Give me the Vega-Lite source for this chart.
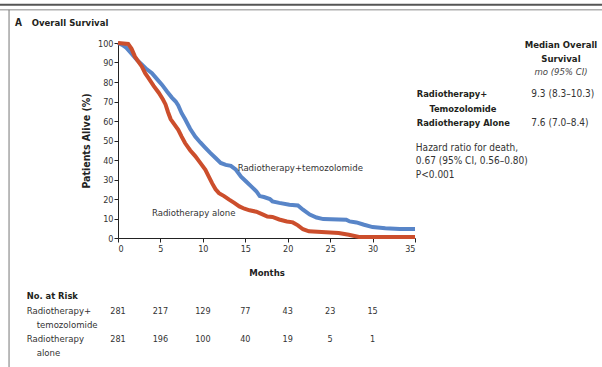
{
  "$schema": "https://vega.github.io/schema/vega-lite/v6.json",
  "autosize": {"type": "none"},
  "padding": {"left": 118, "top": 43, "right": 187, "bottom": 129},
  "width": 297,
  "height": 195,
  "background": "white",
  "resolve": {"axis": {"x": "independent", "y": "independent"}},
  "config": {
    "font": "Liberation Sans Narrow, DejaVu Sans Condensed, sans-serif",
    "view": {"stroke": null},
    "axis": {
      "grid": false,
      "domainColor": "#222",
      "domainWidth": 1,
      "tickColor": "#222",
      "tickSize": 4,
      "labelFontSize": 9,
      "labelColor": "#333",
      "labelOverlap": false,
      "titleFontSize": 10.5,
      "titleFontWeight": "bold",
      "titleColor": "#222"
    },
    "text": {"color": "#231f20"}
  },
  "datasets": {
    "surv": [
      {"group": "Radiotherapy+temozolomide", "month": 0, "pct": 100},
      {"group": "Radiotherapy+temozolomide", "month": 0.5, "pct": 99},
      {"group": "Radiotherapy+temozolomide", "month": 1.0, "pct": 97.5},
      {"group": "Radiotherapy+temozolomide", "month": 1.6, "pct": 94.5},
      {"group": "Radiotherapy+temozolomide", "month": 2.2, "pct": 91.5},
      {"group": "Radiotherapy+temozolomide", "month": 2.8, "pct": 89},
      {"group": "Radiotherapy+temozolomide", "month": 3.4, "pct": 86.5},
      {"group": "Radiotherapy+temozolomide", "month": 4.0, "pct": 84.5},
      {"group": "Radiotherapy+temozolomide", "month": 4.6, "pct": 81.5},
      {"group": "Radiotherapy+temozolomide", "month": 5.2, "pct": 78.5},
      {"group": "Radiotherapy+temozolomide", "month": 5.8, "pct": 75},
      {"group": "Radiotherapy+temozolomide", "month": 6.35, "pct": 72},
      {"group": "Radiotherapy+temozolomide", "month": 6.8, "pct": 70},
      {"group": "Radiotherapy+temozolomide", "month": 7.1, "pct": 68},
      {"group": "Radiotherapy+temozolomide", "month": 7.5, "pct": 64},
      {"group": "Radiotherapy+temozolomide", "month": 7.9, "pct": 61},
      {"group": "Radiotherapy+temozolomide", "month": 8.5, "pct": 56},
      {"group": "Radiotherapy+temozolomide", "month": 9.1, "pct": 52},
      {"group": "Radiotherapy+temozolomide", "month": 9.7, "pct": 49},
      {"group": "Radiotherapy+temozolomide", "month": 10.3, "pct": 46.2},
      {"group": "Radiotherapy+temozolomide", "month": 10.9, "pct": 43.5},
      {"group": "Radiotherapy+temozolomide", "month": 11.5, "pct": 41},
      {"group": "Radiotherapy+temozolomide", "month": 12.1, "pct": 38.5},
      {"group": "Radiotherapy+temozolomide", "month": 12.7, "pct": 37.5},
      {"group": "Radiotherapy+temozolomide", "month": 13.3, "pct": 37},
      {"group": "Radiotherapy+temozolomide", "month": 13.9, "pct": 35},
      {"group": "Radiotherapy+temozolomide", "month": 14.5, "pct": 31.5},
      {"group": "Radiotherapy+temozolomide", "month": 15.1, "pct": 29},
      {"group": "Radiotherapy+temozolomide", "month": 15.7, "pct": 26.5},
      {"group": "Radiotherapy+temozolomide", "month": 16.3, "pct": 24},
      {"group": "Radiotherapy+temozolomide", "month": 16.7, "pct": 21.5},
      {"group": "Radiotherapy+temozolomide", "month": 17.2, "pct": 21},
      {"group": "Radiotherapy+temozolomide", "month": 17.9, "pct": 20},
      {"group": "Radiotherapy+temozolomide", "month": 18.2, "pct": 18.8},
      {"group": "Radiotherapy+temozolomide", "month": 19.0, "pct": 18},
      {"group": "Radiotherapy+temozolomide", "month": 20.2, "pct": 17.1},
      {"group": "Radiotherapy+temozolomide", "month": 21.2, "pct": 16.7},
      {"group": "Radiotherapy+temozolomide", "month": 21.8, "pct": 14.5},
      {"group": "Radiotherapy+temozolomide", "month": 22.6, "pct": 12},
      {"group": "Radiotherapy+temozolomide", "month": 23.4, "pct": 10.5},
      {"group": "Radiotherapy+temozolomide", "month": 24.2, "pct": 9.7},
      {"group": "Radiotherapy+temozolomide", "month": 26.9, "pct": 9.4},
      {"group": "Radiotherapy+temozolomide", "month": 27.3, "pct": 8.5},
      {"group": "Radiotherapy+temozolomide", "month": 28.1, "pct": 8},
      {"group": "Radiotherapy+temozolomide", "month": 29.0, "pct": 6.8},
      {"group": "Radiotherapy+temozolomide", "month": 30.0, "pct": 5.6},
      {"group": "Radiotherapy+temozolomide", "month": 31.5, "pct": 5},
      {"group": "Radiotherapy+temozolomide", "month": 33.2, "pct": 4.6},
      {"group": "Radiotherapy+temozolomide", "month": 35, "pct": 4.6},
      {"group": "Radiotherapy alone", "month": 0, "pct": 100},
      {"group": "Radiotherapy alone", "month": 1.2, "pct": 99.5},
      {"group": "Radiotherapy alone", "month": 1.6, "pct": 97},
      {"group": "Radiotherapy alone", "month": 2.0, "pct": 93},
      {"group": "Radiotherapy alone", "month": 2.4, "pct": 90.5},
      {"group": "Radiotherapy alone", "month": 2.8, "pct": 88},
      {"group": "Radiotherapy alone", "month": 3.2, "pct": 84.5},
      {"group": "Radiotherapy alone", "month": 3.6, "pct": 82},
      {"group": "Radiotherapy alone", "month": 4.2, "pct": 78},
      {"group": "Radiotherapy alone", "month": 4.8, "pct": 74.5},
      {"group": "Radiotherapy alone", "month": 5.3, "pct": 71},
      {"group": "Radiotherapy alone", "month": 5.6, "pct": 68.5},
      {"group": "Radiotherapy alone", "month": 5.9, "pct": 64.5},
      {"group": "Radiotherapy alone", "month": 6.2, "pct": 61},
      {"group": "Radiotherapy alone", "month": 6.6, "pct": 58.5},
      {"group": "Radiotherapy alone", "month": 7.1, "pct": 55.5},
      {"group": "Radiotherapy alone", "month": 7.5, "pct": 52},
      {"group": "Radiotherapy alone", "month": 7.9, "pct": 48.7},
      {"group": "Radiotherapy alone", "month": 8.5, "pct": 45},
      {"group": "Radiotherapy alone", "month": 9.1, "pct": 42},
      {"group": "Radiotherapy alone", "month": 9.7, "pct": 38.5},
      {"group": "Radiotherapy alone", "month": 10.3, "pct": 35},
      {"group": "Radiotherapy alone", "month": 10.7, "pct": 31.5},
      {"group": "Radiotherapy alone", "month": 11.1, "pct": 28},
      {"group": "Radiotherapy alone", "month": 11.5, "pct": 25},
      {"group": "Radiotherapy alone", "month": 11.9, "pct": 23},
      {"group": "Radiotherapy alone", "month": 12.5, "pct": 21.5},
      {"group": "Radiotherapy alone", "month": 13.1, "pct": 19.7},
      {"group": "Radiotherapy alone", "month": 13.7, "pct": 18},
      {"group": "Radiotherapy alone", "month": 14.3, "pct": 16.2},
      {"group": "Radiotherapy alone", "month": 14.9, "pct": 15},
      {"group": "Radiotherapy alone", "month": 15.5, "pct": 14.2},
      {"group": "Radiotherapy alone", "month": 16.3, "pct": 13.5},
      {"group": "Radiotherapy alone", "month": 17.1, "pct": 12},
      {"group": "Radiotherapy alone", "month": 17.6, "pct": 11},
      {"group": "Radiotherapy alone", "month": 18.2, "pct": 10.8},
      {"group": "Radiotherapy alone", "month": 19.0, "pct": 9.5},
      {"group": "Radiotherapy alone", "month": 19.9, "pct": 8.5},
      {"group": "Radiotherapy alone", "month": 20.6, "pct": 8.0},
      {"group": "Radiotherapy alone", "month": 21.2, "pct": 6.5},
      {"group": "Radiotherapy alone", "month": 21.8, "pct": 4.5},
      {"group": "Radiotherapy alone", "month": 22.5, "pct": 3.4},
      {"group": "Radiotherapy alone", "month": 24.5, "pct": 3.0},
      {"group": "Radiotherapy alone", "month": 26.0, "pct": 2.6},
      {"group": "Radiotherapy alone", "month": 27.2, "pct": 1.7},
      {"group": "Radiotherapy alone", "month": 28.4, "pct": 0.5},
      {"group": "Radiotherapy alone", "month": 35, "pct": 0.5}
    ],
    "risk": [
      {"group": "Radiotherapy+temozolomide", "month": 0, "n": 281},
      {"group": "Radiotherapy+temozolomide", "month": 5, "n": 217},
      {"group": "Radiotherapy+temozolomide", "month": 10, "n": 129},
      {"group": "Radiotherapy+temozolomide", "month": 15, "n": 77},
      {"group": "Radiotherapy+temozolomide", "month": 20, "n": 43},
      {"group": "Radiotherapy+temozolomide", "month": 25, "n": 23},
      {"group": "Radiotherapy+temozolomide", "month": 30, "n": 15},
      {"group": "Radiotherapy alone", "month": 0, "n": 281},
      {"group": "Radiotherapy alone", "month": 5, "n": 196},
      {"group": "Radiotherapy alone", "month": 10, "n": 100},
      {"group": "Radiotherapy alone", "month": 15, "n": 40},
      {"group": "Radiotherapy alone", "month": 20, "n": 19},
      {"group": "Radiotherapy alone", "month": 25, "n": 5},
      {"group": "Radiotherapy alone", "month": 30, "n": 1}
    ]
  },
  "layer": [
    {
      "data": {"name": "surv"},
      "transform": [{"filter": "datum.group === 'Radiotherapy+temozolomide'"}],
      "mark": {"type": "line", "strokeWidth": 4, "color": "#5885c8", "clip": false},
      "encoding": {
        "x": {"field": "month", "type": "quantitative",
              "scale": {"domain": [0, 35], "nice": false, "zero": true},
              "axis": {"values": [0, 5, 10, 15, 20, 25, 30, 35], "title": "Months", "labelPadding": 2, "titlePadding": 14, "titleFontSize": 9.5}},
        "y": {"field": "pct", "type": "quantitative",
              "scale": {"domain": [0, 100], "nice": false},
              "axis": {"values": [0, 10, 20, 30, 40, 50, 60, 70, 80, 90, 100], "labelOverlap": false, "title": "Patients Alive (%)", "labelPadding": 1, "titlePadding": 6}}
      }
    },
    {
      "data": {"name": "surv"},
      "transform": [{"filter": "datum.group === 'Radiotherapy alone'"}],
      "mark": {"type": "line", "strokeWidth": 4, "color": "#cc4e2c", "clip": false},
      "encoding": {
        "x": {"field": "month", "type": "quantitative", "axis": null},
        "y": {"field": "pct", "type": "quantitative", "axis": null}
      }
    },
    {
      "data": {"name": "risk"},
      "transform": [{"filter": "datum.group === 'Radiotherapy+temozolomide'"}],
      "mark": {"type": "text", "fontSize": 9, "color": "#333", "baseline": "middle", "align": "center"},
      "encoding": {"x": {"field": "month", "type": "quantitative", "axis": null}, "y": {"datum": -37.3, "axis": null}, "text": {"field": "n"}}
    },
    {
      "data": {"name": "risk"},
      "transform": [{"filter": "datum.group === 'Radiotherapy alone'"}],
      "mark": {"type": "text", "fontSize": 9, "color": "#333", "baseline": "middle", "align": "center"},
      "encoding": {"x": {"field": "month", "type": "quantitative", "axis": null}, "y": {"datum": -51.8, "axis": null}, "text": {"field": "n"}}
    },
    {"data": {"values": [{}]}, "mark": {"type": "text", "align": "left", "baseline": "middle", "fontSize": 9.5, "color": "#333"},
     "encoding": {"x": {"datum": 14.1, "axis": null}, "y": {"datum": 35.9, "axis": null}, "text": {"value": "Radiotherapy+temozolomide"}}},
    {"data": {"values": [{}]}, "mark": {"type": "text", "align": "left", "baseline": "middle", "fontSize": 9.5, "color": "#333"},
     "encoding": {"x": {"datum": 4.0, "axis": null}, "y": {"datum": 12.7, "axis": null}, "text": {"value": "Radiotherapy alone"}}},
    {"data": {"values": [{}]}, "mark": {"type": "text", "align": "center", "baseline": "middle", "fontSize": 9.5, "fontWeight": "bold"},
     "encoding": {"x": {"datum": 52.2, "axis": null}, "y": {"datum": 99, "axis": null}, "text": {"value": "Median Overall"}}},
    {"data": {"values": [{}]}, "mark": {"type": "text", "align": "center", "baseline": "middle", "fontSize": 9.5, "fontWeight": "bold"},
     "encoding": {"x": {"datum": 52.2, "axis": null}, "y": {"datum": 91.6, "axis": null}, "text": {"value": "Survival"}}},
    {"data": {"values": [{}]}, "mark": {"type": "text", "align": "center", "baseline": "middle", "fontSize": 9.5, "fontStyle": "italic", "color": "#444"},
     "encoding": {"x": {"datum": 52.2, "axis": null}, "y": {"datum": 85.0, "axis": null}, "text": {"value": "mo (95% CI)"}}},
    {"data": {"values": [{}]}, "mark": {"type": "text", "align": "left", "baseline": "middle", "fontSize": 9.3, "fontWeight": "bold"},
     "encoding": {"x": {"datum": 35.2, "axis": null}, "y": {"datum": 73.7, "axis": null}, "text": {"value": "Radiotherapy+"}}},
    {"data": {"values": [{}]}, "mark": {"type": "text", "align": "left", "baseline": "middle", "fontSize": 9.3, "fontWeight": "bold"},
     "encoding": {"x": {"datum": 36.7, "axis": null}, "y": {"datum": 66.2, "axis": null}, "text": {"value": "Temozolomide"}}},
    {"data": {"values": [{}]}, "mark": {"type": "text", "align": "left", "baseline": "middle", "fontSize": 9.3, "fontWeight": "bold"},
     "encoding": {"x": {"datum": 35.2, "axis": null}, "y": {"datum": 58.8, "axis": null}, "text": {"value": "Radiotherapy Alone"}}},
    {"data": {"values": [{}]}, "mark": {"type": "text", "align": "left", "baseline": "middle", "fontSize": 10, "color": "#333"},
     "encoding": {"x": {"datum": 48.7, "axis": null}, "y": {"datum": 73.7, "axis": null}, "text": {"value": "9.3 (8.3–10.3)"}}},
    {"data": {"values": [{}]}, "mark": {"type": "text", "align": "left", "baseline": "middle", "fontSize": 10, "color": "#333"},
     "encoding": {"x": {"datum": 48.7, "axis": null}, "y": {"datum": 58.8, "axis": null}, "text": {"value": "7.6 (7.0–8.4)"}}},
    {"data": {"values": [{}]}, "mark": {"type": "text", "align": "left", "baseline": "middle", "fontSize": 10, "color": "#333"},
     "encoding": {"x": {"datum": 35.1, "axis": null}, "y": {"datum": 46.3, "axis": null}, "text": {"value": "Hazard ratio for death,"}}},
    {"data": {"values": [{}]}, "mark": {"type": "text", "align": "left", "baseline": "middle", "fontSize": 10, "color": "#333"},
     "encoding": {"x": {"datum": 35.1, "axis": null}, "y": {"datum": 39.6, "axis": null}, "text": {"value": "0.67 (95% CI, 0.56–0.80)"}}},
    {"data": {"values": [{}]}, "mark": {"type": "text", "align": "left", "baseline": "middle", "fontSize": 10, "color": "#333"},
     "encoding": {"x": {"datum": 35.1, "axis": null}, "y": {"datum": 32.3, "axis": null}, "text": {"value": "P<0.001"}}},
    {"data": {"values": [{}]}, "mark": {"type": "text", "align": "left", "baseline": "middle", "fontSize": 10, "fontWeight": "bold"},
     "encoding": {"x": {"datum": -12.15, "axis": null}, "y": {"datum": 110.1, "axis": null}, "text": {"value": "A"}}},
    {"data": {"values": [{}]}, "mark": {"type": "text", "align": "left", "baseline": "middle", "fontSize": 9.5, "fontWeight": "bold"},
     "encoding": {"x": {"datum": -10.17, "axis": null}, "y": {"datum": 110.1, "axis": null}, "text": {"value": "Overall Survival"}}},
    {"data": {"values": [{}]}, "mark": {"type": "text", "align": "left", "baseline": "middle", "fontSize": 9.3, "fontWeight": "bold"},
     "encoding": {"x": {"datum": -10.76, "axis": null}, "y": {"datum": -29.6, "axis": null}, "text": {"value": "No. at Risk"}}},
    {"data": {"values": [{}]}, "mark": {"type": "text", "align": "left", "baseline": "middle", "fontSize": 9.5, "color": "#333"},
     "encoding": {"x": {"datum": -10.76, "axis": null}, "y": {"datum": -37.3, "axis": null}, "text": {"value": "Radiotherapy+"}}},
    {"data": {"values": [{}]}, "mark": {"type": "text", "align": "left", "baseline": "middle", "fontSize": 9.5, "color": "#333"},
     "encoding": {"x": {"datum": -9.58, "axis": null}, "y": {"datum": -44.6, "axis": null}, "text": {"value": "temozolomide"}}},
    {"data": {"values": [{}]}, "mark": {"type": "text", "align": "left", "baseline": "middle", "fontSize": 9.5, "color": "#333"},
     "encoding": {"x": {"datum": -10.76, "axis": null}, "y": {"datum": -51.8, "axis": null}, "text": {"value": "Radiotherapy"}}},
    {"data": {"values": [{}]}, "mark": {"type": "text", "align": "left", "baseline": "middle", "fontSize": 9.5, "color": "#333"},
     "encoding": {"x": {"datum": -9.58, "axis": null}, "y": {"datum": -59.1, "axis": null}, "text": {"value": "alone"}}},
    {"data": {"values": [{}]}, "mark": {"type": "rule", "color": "#555", "strokeWidth": 2},
     "encoding": {"x": {"datum": -14, "axis": null}, "x2": {"datum": 57.2}, "y": {"datum": 119.6, "axis": null}}},
    {"data": {"values": [{}]}, "mark": {"type": "rule", "color": "#888", "strokeWidth": 1},
     "encoding": {"x": {"datum": -14, "axis": null}, "x2": {"datum": 57.2}, "y": {"datum": 117.0, "axis": null}}},
    {"data": {"values": [{}]}, "mark": {"type": "rule", "color": "#777", "strokeWidth": 1},
     "encoding": {"x": {"datum": -12.84, "axis": null}, "y": {"datum": 117.0, "axis": null}, "y2": {"datum": -67}}}
  ]
}
